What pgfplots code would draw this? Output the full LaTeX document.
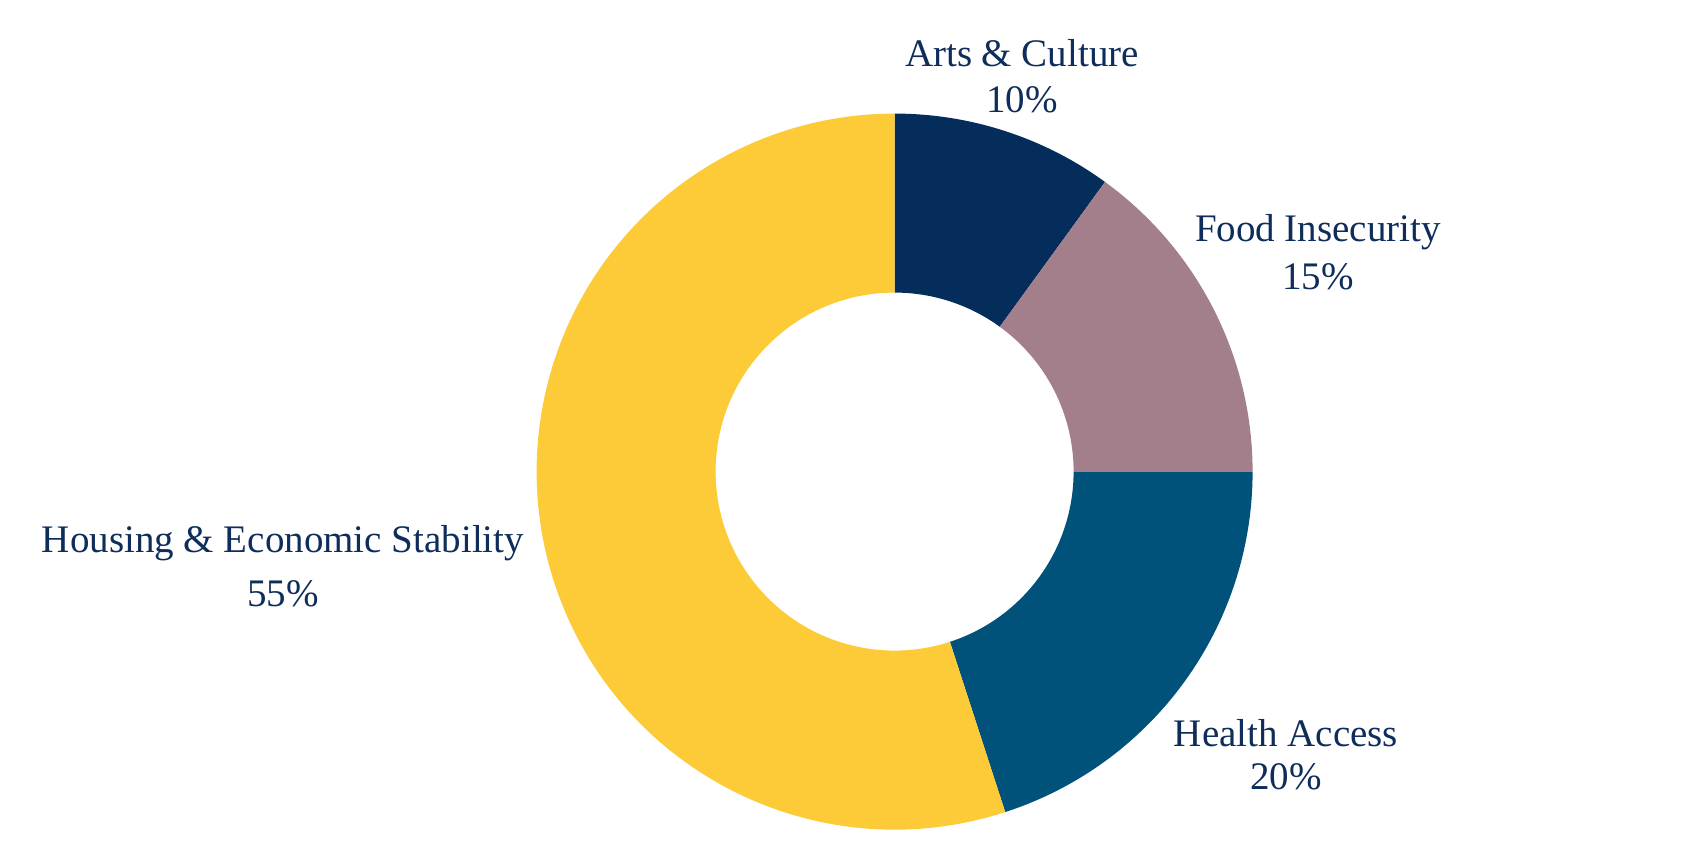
\documentclass[border=0pt]{standalone}
\usepackage{pgfplots}
\pgfplotsset{compat=1.18}
\usepackage{fontspec}
\setmainfont{Liberation Serif}

\definecolor{artsc}{HTML}{052D5C}
\definecolor{foodc}{HTML}{A37F8C}
\definecolor{healthc}{HTML}{00527A}
\definecolor{housec}{HTML}{FDCA38}
\definecolor{txt}{HTML}{0E2D5A}

% donut centre and radii in pixel units (1 px = 0.5pt)
\def\cx{894.6}
\def\cy{394.4}
\def\Rout{179pt}
\def\Rin{89.5pt}

% #1 = cumulative share before slice, #2 = share, #3 = colour
\newcommand\donutslice[3]{%
  \fill[#3] ([shift={({90-3.6*#1}:\Rout)}]axis cs:\cx,\cy)
    arc[start angle={90-3.6*#1}, end angle={90-3.6*(#1+#2)}, radius=\Rout]
    -- ([shift={({90-3.6*(#1+#2)}:\Rin)}]axis cs:\cx,\cy)
    arc[start angle={90-3.6*(#1+#2)}, end angle={90-3.6*#1}, radius=\Rin]
    -- cycle;}

\begin{document}
\begin{tikzpicture}
  \useasboundingbox (0,0) rectangle (846pt,433pt);
  \begin{axis}[
      at={(0,0)}, anchor=south west,
      width=846pt, height=433pt, scale only axis,
      xmin=0, xmax=1692, ymin=0, ymax=866,
      hide axis, clip=false,
    ]
    % shares: Arts 10, Food 15, Health 20, Housing 55 (clockwise from top)
    \donutslice{0}{10}{artsc}
    \donutslice{10}{15}{foodc}
    \donutslice{25}{20}{healthc}
    \donutslice{45}{55}{housec}

    \begin{scope}[every node/.style={anchor=base, text=txt,
        font=\fontsize{19.5pt}{23pt}\selectfont, inner sep=0pt}]
      \node at (axis cs:1022,{866-67}) {Arts \& Culture};
      \node at (axis cs:1022,{866-113}) {10\%};
      \node at (axis cs:1318,{866-242}) {Food Insecurity};
      \node at (axis cs:1318,{866-290}) {15\%};
      \node at (axis cs:1286,{866-747}) {Health Access};
      \node at (axis cs:1286,{866-790}) {20\%};
      \node at (axis cs:283,{866-553}) {Housing \& Economic Stability};
      \node at (axis cs:283,{866-607}) {55\%};
    \end{scope}
  \end{axis}
\end{tikzpicture}
\end{document}
